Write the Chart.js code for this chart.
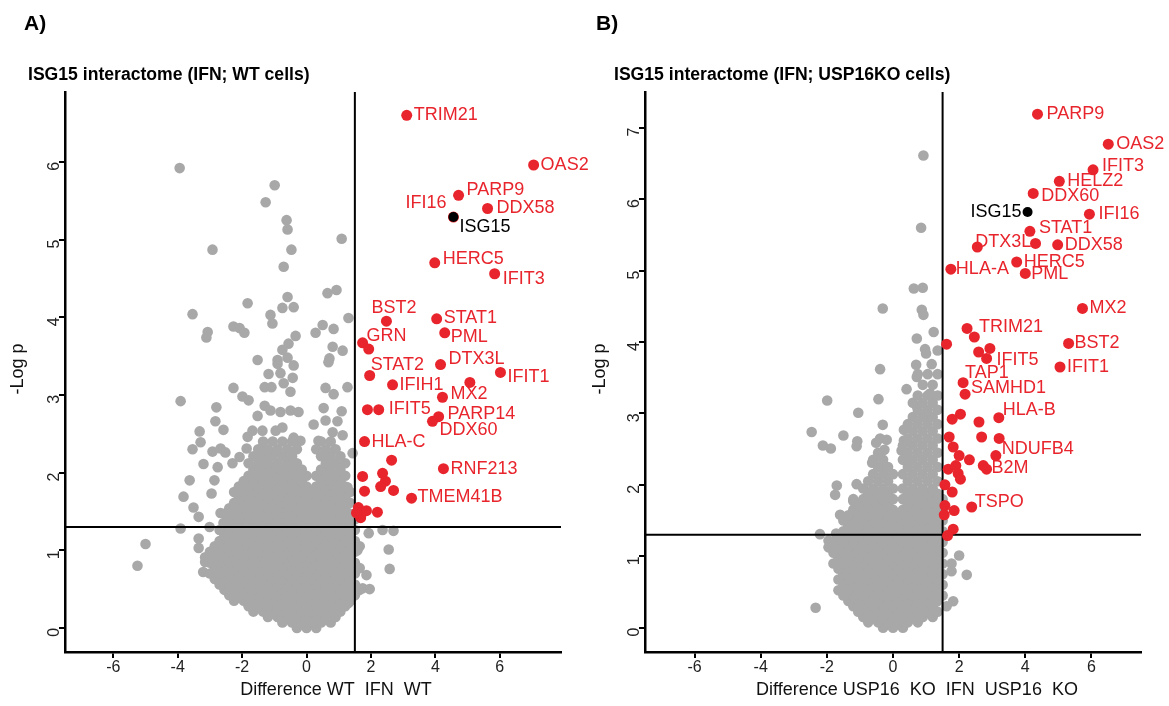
<!DOCTYPE html>
<html><head><meta charset="utf-8">
<script src="https://cdn.jsdelivr.net/npm/chart.js@4.4.1/dist/chart.umd.min.js"></script>
<style>
html,body{margin:0;padding:0;background:#fff}
body{width:1169px;height:706px;overflow:hidden;position:relative;font-family:"Liberation Sans",Arial,sans-serif}
.wrap{position:absolute;top:0;height:706px}
#wa{left:0;width:605px}
#wb{left:585px;width:584px}
.t{position:absolute;font-weight:bold;color:#000;white-space:nowrap;line-height:1}
</style></head><body>
<div class="wrap" id="wa"><canvas id="ca"></canvas></div>
<div class="wrap" id="wb"><canvas id="cb"></canvas></div>
<div class="t" style="left:24px;top:12px;font-size:21px">A)</div>
<div class="t" style="left:28px;top:66px;font-size:17.6px">ISG15 interactome (IFN; WT cells)</div>
<div class="t" style="left:596px;top:12px;font-size:21px">B)</div>
<div class="t" style="left:614px;top:66px;font-size:17.6px">ISG15 interactome (IFN; USP16KO cells)</div>
<script>
// ---------------- data ----------------
const xTickValues = [-6,-4,-2,0,2,4,6];
const yTickValuesA = [0,1,2,3,4,5,6];
const yTickValuesB = [0,1,2,3,4,5,6,7];
const thresholdDiff = 1.5;
const thresholdLogP = 1.3;

// Panel A: dense bulk of background proteins, one row per -log p level: [y, [x values]]
const coreRowsA = [
[0.00,[-0.3,0,0.3]],
[0.07,[-0.75,-0.45,-0.15,0.15,0.45,0.75]],
[0.14,[-1.2,-0.9,-0.6,-0.3,0,0.3,0.6,0.9]],
[0.21,[-1.65,-1.35,-1.05,-0.75,-0.45,-0.15,0.15,0.45,0.75,1.05]],
[0.28,[-1.8,-1.5,-1.2,-0.9,-0.6,-0.3,0,0.3,0.6,0.9,1.2]],
[0.35,[-2.25,-1.95,-1.65,-1.35,-1.05,-0.75,-0.45,-0.15,0.15,0.45,0.75,1.05,1.35]],
[0.42,[-2.4,-2.1,-1.8,-1.5,-1.2,-0.9,-0.6,-0.3,0,0.3,0.6,0.9,1.2,1.5]],
[0.49,[-2.55,-2.25,-1.95,-1.65,-1.35,-1.05,-0.75,-0.45,-0.15,0.15,0.45,0.75,1.05,1.35,1.65]],
[0.56,[-2.7,-2.4,-2.1,-1.8,-1.5,-1.2,-0.9,-0.6,-0.3,0,0.3,0.6,0.9,1.2,1.5]],
[0.63,[-2.85,-2.55,-2.25,-1.95,-1.65,-1.35,-1.05,-0.75,-0.45,-0.15,0.15,0.45,0.75,1.05,1.35]],
[0.70,[-3.0,-2.7,-2.4,-2.1,-1.8,-1.5,-1.2,-0.9,-0.6,-0.3,0,0.3,0.6,0.9,1.2,1.5]],
[0.77,[-2.85,-2.55,-2.25,-1.95,-1.65,-1.35,-1.05,-0.75,-0.45,-0.15,0.15,0.45,0.75,1.05,1.35,1.65]],
[0.84,[-3.0,-2.7,-2.4,-2.1,-1.8,-1.5,-1.2,-0.9,-0.6,-0.3,0,0.3,0.6,0.9,1.2,1.5]],
[0.91,[-3.15,-2.85,-2.55,-2.25,-1.95,-1.65,-1.35,-1.05,-0.75,-0.45,-0.15,0.15,0.45,0.75,1.05,1.35]],
[0.98,[-3.0,-2.7,-2.4,-2.1,-1.8,-1.5,-1.2,-0.9,-0.6,-0.3,0,0.3,0.6,0.9,1.2,1.5]],
[1.05,[-2.85,-2.55,-2.25,-1.95,-1.65,-1.35,-1.05,-0.75,-0.45,-0.15,0.15,0.45,0.75,1.05,1.35,1.65]],
[1.12,[-2.7,-2.4,-2.1,-1.8,-1.5,-1.2,-0.9,-0.6,-0.3,0,0.3,0.6,0.9,1.2,1.5]],
[1.19,[-2.55,-2.25,-1.95,-1.65,-1.35,-1.05,-0.75,-0.45,-0.15,0.15,0.45,0.75,1.05,1.35]],
[1.26,[-2.7,-2.4,-2.1,-1.8,-1.5,-1.2,-0.9,-0.6,-0.3,0,0.3,0.6,0.9,1.2,1.5]],
[1.33,[-2.55,-2.25,-1.95,-1.65,-1.35,-1.05,-0.75,-0.45,-0.15,0.15,0.45,0.75,1.05,1.35]],
[1.40,[-2.4,-2.1,-1.8,-1.5,-1.2,-0.9,-0.6,-0.3,0,0.3,0.6,0.9,1.2,1.5]],
[1.47,[-2.55,-2.25,-1.95,-1.65,-1.35,-1.05,-0.75,-0.45,-0.15,0.15,0.45,0.75,1.05,1.35]],
[1.54,[-2.4,-2.1,-1.8,-1.5,-1.2,-0.9,-0.6,-0.3,0,0.3,0.6,0.9,1.2]],
[1.61,[-2.25,-1.95,-1.65,-1.35,-1.05,-0.75,-0.45,-0.15,0.15,0.45,0.75,1.05,1.35]],
[1.68,[-2.1,-1.8,-1.5,-1.2,-0.9,-0.6,-0.3,0,0.3,0.6,0.9,1.2]],
[1.75,[-2.25,-1.95,-1.65,-1.35,-1.05,-0.75,-0.45,-0.15,0.15,0.45,0.75,1.05,1.35]],
[1.82,[-2.1,-1.8,-1.5,-1.2,-0.9,-0.6,-0.3,0,0.3,0.6,0.9,1.2]],
[1.89,[-1.95,-1.65,-1.35,-1.05,-0.75,-0.45,-0.15,0.45,0.75,1.05]],
[1.96,[-1.8,-1.5,-1.2,-0.9,-0.6,-0.3,0,0.3,0.6,0.9,1.2]],
[2.04,[-1.65,-1.35,-1.05,-0.75,-0.45,-0.15,0.45,0.75,1.05]],
[2.12,[-1.8,-1.5,-1.2,-0.9,-0.6,-0.3,0.6,0.9,1.2]],
[2.21,[-1.65,-1.35,-1.05,-0.75,-0.45,0.45,0.75,1.05]],
[2.30,[-1.5,-1.2,-0.9,-0.6,-0.3,0.3,0.6,0.9]],
[2.40,[-1.35,-1.05,-0.75,-0.45,0.45,0.75]]
];
// Panel A: scattered background proteins [x, y]
const scatterA = [
[-3.94,5.92],[-0.99,5.70],[-1.27,5.48],[-0.62,5.25],[-0.59,5.13],[1.09,5.01],[-2.92,4.87],[-0.47,4.87],[-0.71,4.65],
[-1.83,4.18],[-0.59,4.26],[-0.75,4.12],[-0.40,4.13],[0.65,4.31],[0.93,4.35],[-3.54,4.04],[-1.12,4.03],[-1.06,3.92],[1.30,3.99],
[-2.27,3.88],[-2.08,3.86],[-1.93,3.80],[-3.07,3.81],[-3.11,3.74],[-0.34,3.76],[-0.56,3.66],[0.50,3.90],[0.28,3.80],[0.84,3.85],
[0.81,3.62],[1.12,3.57],[-0.75,3.58],[-1.52,3.45],[-0.90,3.45],[-0.59,3.48],[0.71,3.47],
[-0.90,3.40],[-0.40,3.38],[0.68,3.42],[-1.18,3.27],[-0.81,3.28],[-0.43,3.22],[-2.27,3.09],[-1.30,3.10],[-1.09,3.10],
[-0.71,3.15],[-0.50,3.04],[0.59,3.09],[0.84,3.01],[1.27,3.10],[-1.99,2.98],[-1.80,2.93],[-3.91,2.92],[-2.80,2.84],[-1.30,2.86],
[-1.12,2.80],[-0.81,2.78],[-0.50,2.80],[-0.25,2.78],[0.53,2.83],[1.09,2.79],[-2.83,2.66],[-2.58,2.55],[-1.52,2.73],
[-1.37,2.54],[-1.68,2.54],[-0.96,2.54],[-0.75,2.58],[0.22,2.62],[0.59,2.67],[0.96,2.66],[-3.32,2.53],[-3.29,2.39],[-3.54,2.30],
[-2.92,2.27],[-2.67,2.31],[-2.52,2.26],[-1.83,2.46],[-1.86,2.31],[-2.08,2.20],[-2.30,2.12],[-3.20,2.11],[-2.76,2.07],
[-1.43,2.29],[-1.02,2.26],[-0.40,2.45],[-0.19,2.41],[0.37,2.41],[0.81,2.52],[1.12,2.48],[1.43,2.25],
[-2.86,1.90],[-3.63,1.90],[-3.82,1.69],[-2.95,1.73],[-3.51,1.55],[-3.35,1.43],[-2.67,1.48],[-2.58,1.35],[-3.91,1.28],[-3.01,1.30],
[-5.00,1.08],[-5.25,0.80],[-3.35,1.15],[-3.35,1.03],[-3.15,0.85],[-3.21,0.72],
[1.27,1.81],[1.30,1.61],[1.06,1.99],[1.58,1.00],[1.58,0.51],[1.30,0.32],
[1.93,1.22],[2.36,1.26],[2.70,1.25],[2.55,1.01],[2.58,0.76],[1.86,0.68],[1.74,0.51],[1.96,0.50]
];

// Panel A: significant interactors (red)
const redA = [
[3.11,6.60],[7.05,5.96],[4.72,5.57],[4.56,5.29],[5.62,5.40],[3.98,4.70],[5.84,4.56],[2.48,3.95],[4.04,3.98],
[1.74,3.67],[1.93,3.59],[4.29,3.80],[4.16,3.39],[1.96,3.25],[2.67,3.13],[5.07,3.16],[6.02,3.29],[4.22,2.97],
[1.89,2.81],[2.24,2.81],[4.10,2.72],[3.91,2.66],[1.80,2.40],[2.64,2.16],[1.74,1.95],[2.36,1.99],[2.45,1.89],
[2.30,1.82],[1.80,1.76],[2.70,1.77],[3.26,1.67],[4.25,2.05],
[1.61,1.55],[1.74,1.49],[1.68,1.42],[1.86,1.51],[1.55,1.48],[2.20,1.49]
];
const redLabelsA = [
"TRIM21","OAS2","PARP9","IFI16","DDX58","HERC5","IFIT3","BST2","STAT1",
"GRN","","PML","DTX3L","STAT2","IFIH1","","IFIT1","MX2",
"","IFIT5","PARP14","DDX60","HLA-C","","","","",
"","","","TMEM41B","RNF213",
"","","","","",""
];
const baitA = [[4.56,5.29]];
const baitLabelsA = ["ISG15"];

// Panel B: dense bulk of background proteins: [y, [x values]]
const coreRowsB = [
[0.000,[-0.3,0,0.3]],
[0.075,[-0.75,-0.45,-0.15,0.15,0.45,0.75]],
[0.150,[-0.9,-0.6,-0.3,0,0.3,0.6,0.9,1.2]],
[0.225,[-1.05,-0.75,-0.45,-0.15,0.15,0.45,0.75,1.05,1.35]],
[0.300,[-1.2,-0.9,-0.6,-0.3,0,0.3,0.6,0.9,1.2]],
[0.375,[-1.35,-1.05,-0.75,-0.45,-0.15,0.15,0.45,0.75,1.05,1.35]],
[0.450,[-1.5,-1.2,-0.9,-0.6,-0.3,0,0.3,0.6,0.9,1.2,1.5]],
[0.525,[-1.65,-1.35,-1.05,-0.75,-0.45,-0.15,0.15,0.45,0.75,1.05,1.35]],
[0.600,[-1.5,-1.2,-0.9,-0.6,-0.3,0,0.3,0.6,0.9,1.2,1.5]],
[0.675,[-1.65,-1.35,-1.05,-0.75,-0.45,-0.15,0.15,0.45,0.75,1.05,1.35]],
[0.750,[-1.5,-1.2,-0.9,-0.6,-0.3,0,0.3,0.6,0.9,1.2,1.5]],
[0.825,[-1.65,-1.35,-1.05,-0.75,-0.45,-0.15,0.15,0.45,0.75,1.05,1.35]],
[0.900,[-1.8,-1.5,-1.2,-0.9,-0.6,-0.3,0,0.3,0.6,0.9,1.2,1.5]],
[0.975,[-1.65,-1.35,-1.05,-0.75,-0.45,-0.15,0.15,0.45,0.75,1.05,1.35]],
[1.050,[-1.8,-1.5,-1.2,-0.9,-0.6,-0.3,0,0.3,0.6,0.9,1.2,1.5]],
[1.125,[-1.95,-1.65,-1.35,-1.05,-0.75,-0.45,-0.15,0.15,0.45,0.75,1.05,1.35]],
[1.200,[-1.8,-1.5,-1.2,-0.9,-0.6,-0.3,0,0.3,0.6,0.9,1.2,1.5]],
[1.275,[-1.65,-1.35,-1.05,-0.75,-0.45,-0.15,0.15,0.45,0.75,1.05,1.35]],
[1.350,[-1.5,-1.2,-0.9,-0.6,-0.3,0,0.3,0.6,0.9,1.2,1.5]],
[1.425,[-1.35,-1.05,-0.75,-0.45,-0.15,0.15,0.45,0.75,1.05,1.35]],
[1.500,[-1.5,-1.2,-0.9,-0.6,-0.3,0,0.3,0.6,0.9,1.2,1.5]],
[1.575,[-1.35,-1.05,-0.75,-0.45,-0.15,0.15,0.45,0.75,1.05,1.35]],
[1.650,[-1.2,-0.9,-0.6,-0.3,0,0.3,0.6,0.9,1.2,1.5]],
[1.725,[-1.05,-0.75,-0.45,-0.15,0.45,0.75,1.05,1.35]],
[1.800,[-1.2,-0.9,-0.6,-0.3,0,0.3,0.6,0.9,1.2,1.5]],
[1.875,[-0.75,-0.45,-0.15,0.45,0.75,1.05,1.35]],
[1.950,[-0.9,-0.6,-0.3,0,0.3,0.6,0.9,1.2]],
[2.050,[-0.75,-0.45,-0.15,0.45,0.75,1.05,1.35]],
[2.150,[-0.6,-0.3,0,0.3,0.6,0.9,1.2]],
[2.250,[-0.45,-0.15,0.45,0.75,1.05,1.35]],
[2.350,[-0.6,-0.3,0.3,0.6,0.9,1.2]],
[2.450,[-0.45,0.45,0.75,1.05,1.35]],
[2.550,[0.3,0.6,0.9,1.2]],
[2.650,[0.45,0.75,1.05,1.35]],
[2.750,[0.6,0.9,1.2]],
[2.850,[0.45,0.75,1.05,1.35]],
[2.950,[0.6,0.9,1.2]],
[3.050,[0.75,1.05,1.35]],
[3.150,[0.6,0.9,1.2]],
[3.250,[0.75,1.05,1.35]],
[3.400,[0.9,1.2]],
[3.550,[0.75,1.05,1.35]]
];
// Panel B: scattered background proteins [x, y]
const scatterB = [
[0.92,6.61],[0.85,5.60],[0.63,4.75],[0.90,4.76],[-0.31,4.47],[0.87,4.45],[0.92,4.38],[1.23,4.14],[0.72,4.05],
[0.97,3.90],[1.0,3.84],[1.35,3.88],[-0.39,3.62],[0.70,3.68],[1.17,3.69],[0.41,3.34],[-0.44,3.20],[-1.99,3.18],[-1.05,3.01],
[-2.46,2.74],[-2.12,2.55],[-1.88,2.51],[-1.50,2.69],[-1.08,2.61],[-1.10,2.54],[-0.31,2.84],[-0.39,2.65],[-0.51,2.59],
[-0.19,2.63],[-0.26,2.49],[-0.63,2.31],[0.33,2.77],[0.33,2.62],[0.26,2.48],[0.72,3.10],[0.92,2.96],[0.72,3.51],[1.12,3.28],
[-1.70,1.99],[-1.75,1.86],[-1.10,2.01],[-1.20,1.77],[-0.95,1.70],[-1.60,1.58],[-1.32,1.46],[-2.21,1.31],[-1.72,1.32],[-1.95,1.22],
[-2.34,0.28],
[2.0,1.01],[1.77,0.90],[1.77,0.79],[2.23,0.74],[1.82,0.37],[1.62,0.30]
];

// Panel B: significant interactors (red)
const redB = [
[4.37,7.19],[6.51,6.77],[6.05,6.41],[5.03,6.25],[4.24,6.08],[5.94,5.79],[4.14,5.55],[2.55,5.33],[4.31,5.38],
[4.98,5.36],[3.74,5.12],[1.75,5.02],[4.00,4.96],[5.73,4.47],[2.24,4.19],[2.46,4.07],[5.31,3.98],[1.62,3.97],
[2.59,3.86],[2.93,3.91],[2.83,3.77],[5.05,3.65],[2.12,3.43],[2.18,3.27],[3.20,2.94],[2.04,2.99],[1.79,2.92],
[2.60,2.88],[1.70,2.67],[2.68,2.67],[3.21,2.65],[1.82,2.53],[2.00,2.41],[2.31,2.35],[3.11,2.41],[2.73,2.27],
[2.83,2.22],[1.67,2.22],[1.90,2.27],[1.97,2.16],[2.04,2.08],[1.57,2.00],[1.79,1.90],[2.38,1.69],[1.57,1.71],
[1.55,1.58],[1.85,1.64],[1.82,1.38],[1.65,1.29]
];
const redLabelsB = [
"PARP9","OAS2","IFIT3","HELZ2","DDX60","IFI16","STAT1","DTX3L","",
"DDX58","HERC5","HLA-A","PML","MX2","TRIM21","","BST2","",
"","","IFIT5","IFIT1","TAP1","SAMHD1","HLA-B","","",
"","","","","","","","NDUFB4","",
"B2M","","","","","","","TSPO","",
"","","",""
];
const baitB = [[4.07,5.82]];
const baitLabelsB = ["ISG15"];

// ---------------- styles ----------------
const FONT = '"Liberation Sans", Arial, Helvetica, sans-serif';
const GREY = '#A8A8A8', RED = '#E8242C', BLACK = '#000000';
const labelOffsetsA = {
  TRIM21:[7,0],OAS2:[7,0],PARP9:[8,-5],IFI16:[-7,-14,'right'],DDX58:[9,0],HERC5:[8,-4],IFIT3:[8,5],
  BST2:[-15,-13],STAT1:[7,-1],GRN:[4,-7],PML:[6,4],DTX3L:[8,-6],STAT2:[1,-10],IFIT1:[7,5],IFIH1:[7,0],
  MX2:[8,-3],IFIT5:[10,-1],PARP14:[9,-3],DDX60:[7,9],"HLA-C":[7,1],RNF213:[7,0],TMEM41B:[6,-1],ISG15:[6,10]
};
const labelOffsetsB = {
  PARP9:[9,0],OAS2:[8,0],IFIT3:[9,-4],HELZ2:[8,0],DDX60:[8,3],ISG15:[-6,0,'right'],IFI16:[9,0],STAT1:[9,-3],
  DTX3L:[-2,-5],DDX58:[7,0],HERC5:[7,0],"HLA-A":[5,0],PML:[6,1],MX2:[7,0],TRIM21:[12,-1],BST2:[6,0],
  IFIT5:[10,2],IFIT1:[7,0],TAP1:[2,-10],SAMHD1:[6,-6],"HLA-B":[4,-8],NDUFB4:[6,-7],B2M:[5,-1],TSPO:[3,-5]
};

const toXY = arr => arr.map(p => ({x:p[0], y:p[1]}));
const rowsToXY = rows => rows.flatMap(r => r[1].map(x => ({x:x, y:r[0]})));

const pointLabelPlugin = {
  id:'pointLabels',
  afterDatasetsDraw(chart){
    const ctx = chart.ctx;
    chart.data.datasets.forEach((ds,i)=>{
      if(!ds.pointLabels) return;
      const meta = chart.getDatasetMeta(i);
      ctx.save();
      ctx.font = '18px ' + FONT;
      ctx.fillStyle = ds.labelColor;
      ctx.textBaseline = 'middle';
      meta.data.forEach((el,j)=>{
        const t = ds.pointLabels[j];
        if(!t) return;
        const o = ds.labelOffsets[t] || [7,0];
        ctx.textAlign = o[2] || 'left';
        ctx.fillText(t, el.x + o[0], el.y + o[1]);
      });
      ctx.restore();
    });
  }
};

const axisTitlePlugin = {
  id:'axisTitles',
  afterDraw(chart, args, o){
    const ctx = chart.ctx, a = chart.chartArea;
    ctx.save();
    ctx.fillStyle = '#111';
    ctx.font = '18px ' + FONT;
    ctx.textAlign = 'center';
    ctx.textBaseline = 'middle';
    ctx.fillText(o.xText, o.xCenter, o.xY);
    ctx.translate(o.yX, (a.top + a.bottom)/2 - 3);
    ctx.rotate(-Math.PI/2);
    ctx.fillText(o.yText, 0, 0);
    ctx.restore();
  }
};

function makeChart(id, cfg){
  const tickFont = {family: FONT, size: 16};
  return new Chart(document.getElementById(id), {
    type:'scatter',
    data:{datasets:[
      {data:toXY(cfg.bait), backgroundColor:BLACK, borderWidth:0, pointRadius:5, order:0,
       pointLabels:cfg.baitLabels, labelColor:'#000', labelOffsets:cfg.offsets},
      {data:toXY(cfg.red), backgroundColor:RED, borderWidth:0, pointRadius:5.5, order:1,
       pointLabels:cfg.redLabels, labelColor:RED, labelOffsets:cfg.offsets},
      {data:[{x:cfg.xMin,y:thresholdLogP},{x:cfg.xMax,y:thresholdLogP}], showLine:true, pointRadius:0,
       borderColor:'#000', borderWidth:2, order:2},
      {data:[{x:thresholdDiff,y:cfg.yMin},{x:thresholdDiff,y:cfg.yMax}], showLine:true, pointRadius:0,
       borderColor:'#000', borderWidth:2, order:2},
      {data:toXY(cfg.scatter).concat(rowsToXY(cfg.core)), backgroundColor:GREY, borderWidth:0, pointRadius:5.3, order:3}
    ]},
    options:{
      responsive:true, maintainAspectRatio:false, animation:false, devicePixelRatio:1,
      layout:{padding:{top:92, right:cfg.padRight, left:0, bottom:0}},
      plugins:{legend:{display:false}, tooltip:{enabled:false},
        axisTitles:{xText:cfg.xTitle, xCenter:cfg.xTitleCenter, xY:690, yText:'-Log p', yX:cfg.yTitleX}},
      scales:{
        x:{type:'linear', min:cfg.xMin, max:cfg.xMax,
          afterBuildTicks:s=>{s.ticks = xTickValues.map(v=>({value:v}));},
          afterFit:s=>{s.height = 54;},
          grid:{drawOnChartArea:false, drawTicks:true, tickLength:6, color:'#000', lineWidth:2},
          border:{display:true, color:'#000', width:2.5},
          ticks:{font:tickFont, color:'#222', padding:0, maxRotation:0, minRotation:0}},
        y:{type:'linear', min:cfg.yMin, max:cfg.yMax,
          afterBuildTicks:s=>{s.ticks = cfg.yTicks.map(v=>({value:v}));},
          afterFit:s=>{s.width = cfg.yAxisWidth;},
          grid:{drawOnChartArea:false, drawTicks:true, tickLength:6, color:'#000', lineWidth:2},
          border:{display:true, color:'#000', width:2.5},
          ticks:{font:tickFont, color:'#222', padding:4, minRotation:90, maxRotation:90}}
      }
    },
    plugins:[pointLabelPlugin, axisTitlePlugin]
  });
}

makeChart('ca', {core:coreRowsA, scatter:scatterA, red:redA, redLabels:redLabelsA, bait:baitA, baitLabels:baitLabelsA,
  offsets:labelOffsetsA, xMin:-7.5, xMax:7.9, yMin:-0.31, yMax:6.9, yTicks:yTickValuesA,
  padRight:44, yAxisWidth:65, xTitle:'Difference WT  IFN  WT', xTitleCenter:336, yTitleX:18});
makeChart('cb', {core:coreRowsB, scatter:scatterB, red:redB, redLabels:redLabelsB, bait:baitB, baitLabels:baitLabelsB,
  offsets:labelOffsetsB, xMin:-7.5, xMax:7.5, yMin:-0.34, yMax:7.5, yTicks:yTickValuesB,
  padRight:28, yAxisWidth:60, xTitle:'Difference USP16  KO  IFN  USP16  KO', xTitleCenter:332, yTitleX:15});
</script>
</body></html>
